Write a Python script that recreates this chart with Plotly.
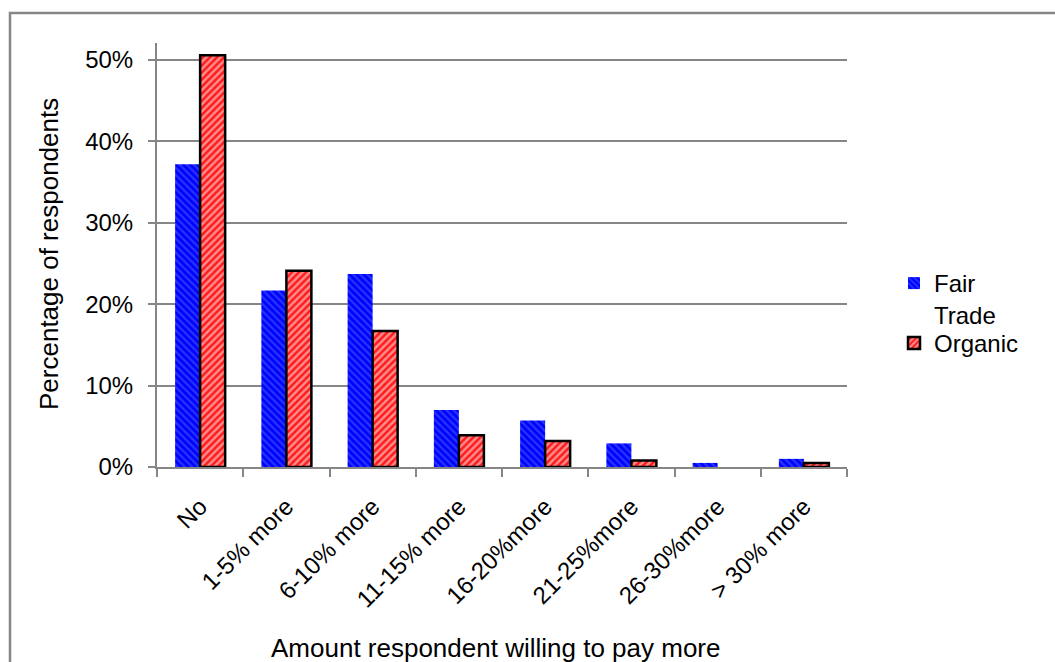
import plotly.graph_objects as go

categories = ["No", "1-5% more", "6-10% more", "11-15% more", "16-20%more",
              "21-25%more", "26-30%more", "> 30% more"]
fair_trade = [0.372, 0.217, 0.237, 0.070, 0.057, 0.029, 0.005, 0.010]
organic = [0.506, 0.241, 0.167, 0.039, 0.032, 0.008, None, 0.005]

W, H = 1055, 662
L, R, T, B = 157, 847, 43, 467  # plot area pixel bounds
pw, ph = R - L, B - T

def px(x):
    return (x - L) / pw

def py(y):
    return (B - y) / ph

FONT = "Liberation Sans, Arial, sans-serif"
GRAY = "#868686"
TICK = 24
TITLE = 26

fig = go.Figure()
fig.add_trace(go.Bar(
    x=categories, y=fair_trade, name="Fair<br>Trade", legend="legend",
    marker=dict(color="#0000FF", line=dict(width=0),
                pattern=dict(shape="\\", fgcolor="#4A6BFF", bgcolor="#0000FF",
                             size=5, solidity=0.45)),
))
fig.add_trace(go.Bar(
    x=categories, y=organic, name="Organic", legend="legend2",
    marker=dict(color="#FF0000", line=dict(width=2.5, color="#000000"),
                pattern=dict(shape="/", fgcolor="#FFFFFF", bgcolor="#FF1A1A",
                             size=5, solidity=0.5)),
))

leg_common = dict(xanchor="left", yanchor="top", font=dict(size=TICK),
                  bgcolor="rgba(0,0,0,0)", itemwidth=30, valign="top")

fig.update_layout(
    width=W, height=H,
    margin=dict(l=L, r=W - R, t=T, b=H - B, autoexpand=False),
    paper_bgcolor="white", plot_bgcolor="white",
    font=dict(family=FONT, size=TICK, color="black"),
    barmode="group", bargap=0.42, bargroupgap=0,
    showlegend=True,
    legend=dict(x=px(894), y=py(261), **leg_common),
    legend2=dict(x=px(894), y=py(321), **leg_common),
    xaxis=dict(
        showline=True, linecolor=GRAY, linewidth=2,
        ticks="outside", tickson="boundaries", ticklen=8, tickcolor=GRAY, tickwidth=2,
        tickangle=-45, tickfont=dict(size=TICK), ticklabelstandoff=14,
        showgrid=False,
    ),
    yaxis=dict(
        range=[0, 0.521], dtick=0.1, tickformat=".0%",
        showline=True, linecolor=GRAY, linewidth=2,
        ticks="outside", ticklen=7, tickcolor=GRAY, tickwidth=2,
        showgrid=True, gridcolor=GRAY, gridwidth=1.5,
        zeroline=False, tickfont=dict(size=TICK), ticklabelstandoff=10,
    ),
    annotations=[
        dict(text="Amount respondent willing to pay more", x=px(495), y=py(648),
             xref="paper", yref="paper", showarrow=False, font=dict(size=TITLE),
             xanchor="center", yanchor="middle"),
        dict(text="Percentage of respondents", x=px(49), y=py(254),
             xref="paper", yref="paper", showarrow=False, font=dict(size=TITLE),
             textangle=-90, xanchor="center", yanchor="middle"),
    ],
    shapes=[
        dict(type="rect", xref="paper", yref="paper",
             x0=px(10), x1=px(1060), y0=py(13), y1=py(700),
             line=dict(color=GRAY, width=2.5), fillcolor="rgba(0,0,0,0)", layer="below"),
    ],
)

fig.write_html("out.html")
